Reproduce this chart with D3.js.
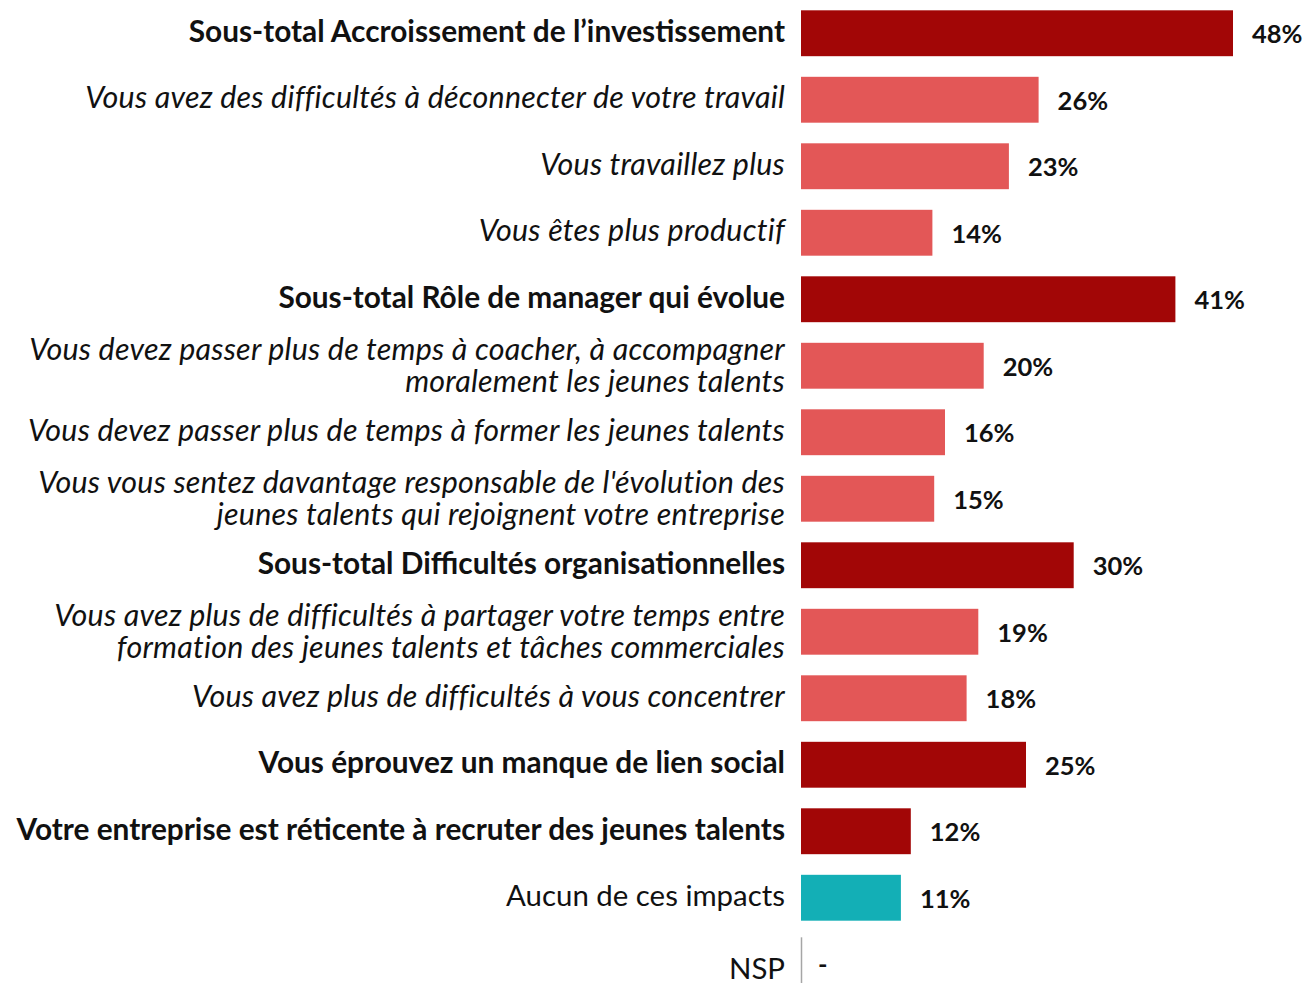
<!DOCTYPE html>
<html>
<head>
<meta charset="utf-8">
<script src="https://cdn.jsdelivr.net/npm/d3@7"></script>
<style>
body{margin:0;background:#fff;}
svg text{font-family:Lato,"Open Sans",sans-serif;}
</style>
</head>
<body>
<svg id="chart" width="1307" height="983"></svg>
<script>
// libellés (une ligne par élément de tableau)
var categories=[
	["Sous-total Accroissement de l\u2019investissement"],
	["Vous avez des difficultés à déconnecter de votre travail"],
	["Vous travaillez plus"],
	["Vous êtes plus productif"],
	["Sous-total Rôle de manager qui évolue"],
	["Vous devez passer plus de temps à coacher, à accompagner","moralement les jeunes talents"],
	["Vous devez passer plus de temps à former les jeunes talents"],
	["Vous vous sentez davantage responsable de l'évolution des","jeunes talents qui rejoignent votre entreprise"],
	["Sous-total Difficultés organisationnelles"],
	["Vous avez plus de difficultés à partager votre temps entre","formation des jeunes talents et tâches commerciales"],
	["Vous avez plus de difficultés à vous concentrer"],
	["Vous éprouvez un manque de lien social"],
	["Votre entreprise est réticente à recruter des jeunes talents"],
	["Aucun de ces impacts"],
	["NSP"]
];
var values=[48.0,26.4,23.1,14.6,41.6,20.3,16.0,14.8,30.3,19.7,18.4,25.0,12.2,11.1,0];
var valueLabels=["48%","26%","23%","14%","41%","20%","16%","15%","30%","19%","18%","25%","12%","11%","-"];
// type: total = sous-total en gras, item = détail en italique, none = aucun, nsp
var types=["total","item","item","item","total","item","item","item","total","item","item","total","total","none","nsp"];

var colors={total:"#A20606",item:"#E35757",none:"#13AFB6",nsp:"#999"};
var fontSizes={total:29.8,item:30.4,none:29.4,nsp:29.4};
var x0=801;

var svg=d3.select("#chart");
var idx=d3.range(categories.length);

var y=d3.scaleBand()
	.domain(idx)
	.range([0,997.5])
	.paddingInner(0.31)
	.paddingOuter(0.155);

var x=d3.scaleLinear()
	.domain([0,48])
	.range([x0,x0+432]);

// barres
svg.selectAll("rect.bar")
	.data(idx.filter(function(i){return types[i]!=="nsp";}))
	.enter()
	.append("rect")
	.attr("class","bar")
	.attr("x",x(0))
	.attr("y",function(i){return y(i);})
	.attr("width",function(i){return x(values[i])-x(0);})
	.attr("height",y.bandwidth())
	.attr("fill",function(i){return colors[types[i]];});

// petit trait pour NSP
var nsp=categories.length-1;
svg.append("line")
	.attr("x1",x(0)+0.5).attr("x2",x(0)+0.5)
	.attr("y1",y(nsp)-4).attr("y2",983)
	.attr("stroke","#a6a6a6")
	.attr("stroke-width",1.5);

// valeurs
svg.selectAll("text.val")
	.data(idx)
	.enter()
	.append("text")
	.attr("class","val")
	.attr("x",function(i){return x(values[i])+(types[i]==="nsp"?17:19);})
	.attr("y",function(i){return y(i)+y.bandwidth()/2+(types[i]==="nsp"?0:1);})
	.attr("dy","0.35em")
	.attr("font-size",25.5)
	.attr("font-weight","bold")
	.attr("fill","#111")
	.text(function(i){return valueLabels[i];});

// libellés des catégories
var lab=svg.selectAll("text.cat")
	.data(idx)
	.enter()
	.append("text")
	.attr("class","cat")
	.attr("text-anchor","end")
	.attr("font-size",function(i){return fontSizes[types[i]];})
	.attr("font-weight",function(i){return types[i]==="total"?"bold":"normal";})
	.attr("font-style",function(i){return types[i]==="item"?"italic":"normal";})
	.attr("letter-spacing",function(i){return types[i]==="item"?0.25:0;})
	.attr("fill","#111");

lab.each(function(i){
	var lines=categories[i];
	var cy=y(i)+y.bandwidth()/2;
	if(types[i]==="nsp") cy=971;
	var n=lines.length;
	if(n===1) cy-=2;
	d3.select(this).selectAll("tspan")
		.data(lines)
		.enter()
		.append("tspan")
		.attr("x",785)
		.attr("y",function(d,k){return cy+(k-(n-1)/2)*32;})
		.attr("dy","0.35em")
		.text(function(d){return d;});
});
</script>
</body>
</html>
